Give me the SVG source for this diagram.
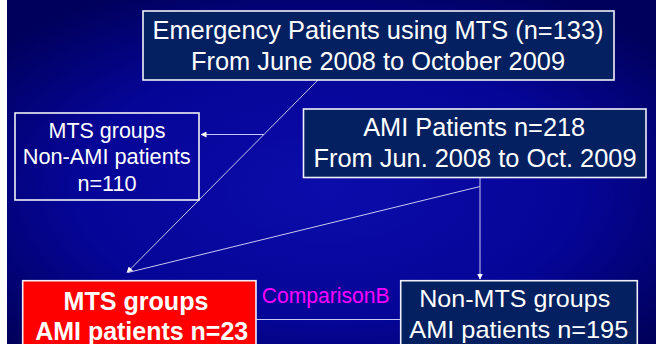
<svg xmlns="http://www.w3.org/2000/svg" width="656" height="344" viewBox="0 0 656 344">
<defs>
<radialGradient id="bg" cx="50%" cy="55%" r="65%">
<stop offset="0" stop-color="#0c0cab"/>
<stop offset="0.6" stop-color="#050596"/>
<stop offset="1" stop-color="#00005c"/>
</radialGradient>
<marker id="ah" viewBox="0 0 6 6" refX="5.5" refY="3" markerWidth="6" markerHeight="6" markerUnits="userSpaceOnUse" orient="auto">
<path d="M0,0 L6,3 L0,6 z" fill="#ffffff"/>
</marker>
<style>
.box{stroke:#f0f0f8;stroke-width:1.6}
.navy{fill:#042060}
.t{font-family:"Liberation Sans",Arial,sans-serif;fill:#ffffff;text-anchor:middle}
.conn{stroke:#c8c8f0;stroke-width:1;fill:none}
</style>
</defs>
<rect x="0" y="0" width="656" height="344" fill="url(#bg)"/>
<rect x="0" y="0" width="7" height="344" fill="#ffffff"/>

<g id="connectors">
<polyline class="conn" points="318,80 127,272.5" marker-end="url(#ah)"/>
<polyline class="conn" points="264,134.5 201,134.5" marker-end="url(#ah)"/>
<polyline class="conn" points="480,178 480,279" marker-end="url(#ah)"/>
<polyline class="conn" points="480,186.5 128,272.5"/>
<line class="conn" x1="256" y1="319.5" x2="401" y2="319.5"/>
</g>

<g id="emergency">
<rect class="box navy" x="143" y="11" width="471" height="69"/>
<text class="t" x="378" y="38.5" font-size="25.5" textLength="451" lengthAdjust="spacingAndGlyphs">Emergency Patients using MTS (n=133)</text>
<text class="t" x="378" y="69.5" font-size="25.5" textLength="374" lengthAdjust="spacingAndGlyphs">From June 2008 to October 2009</text>
</g>

<g id="nonami">
<rect class="box" x="15" y="113" width="184" height="87" fill="none"/>
<text class="t" x="107" y="138" font-size="21.5" textLength="117" lengthAdjust="spacingAndGlyphs">MTS groups</text>
<text class="t" x="106.7" y="164" font-size="21.5" textLength="168" lengthAdjust="spacingAndGlyphs">Non-AMI patients</text>
<text class="t" x="107" y="190.5" font-size="21.5" textLength="59" lengthAdjust="spacingAndGlyphs">n=110</text>
</g>

<g id="ami">
<rect class="box navy" x="303.5" y="109" width="342.5" height="68.5"/>
<text class="t" x="474.2" y="136" font-size="25.5" textLength="222" lengthAdjust="spacingAndGlyphs">AMI Patients n=218</text>
<text class="t" x="475" y="166.5" font-size="25.5" textLength="323" lengthAdjust="spacingAndGlyphs">From Jun. 2008 to Oct. 2009</text>
</g>

<g id="mts-ami">
<rect class="box" x="22.7" y="280.7" width="233.3" height="80" fill="#ff0000" stroke-width="2"/>
<text class="t" x="136" y="310" font-size="26" font-weight="bold" textLength="145" lengthAdjust="spacingAndGlyphs">MTS groups</text>
<text class="t" x="141.7" y="340" font-size="26" font-weight="bold" textLength="213" lengthAdjust="spacingAndGlyphs">AMI patients n=23</text>
</g>

<g id="comparison">
<text x="261.7" y="302.7" font-family="'Liberation Sans',Arial,sans-serif" font-size="22" fill="#ff00ff" textLength="128" lengthAdjust="spacingAndGlyphs">ComparisonB</text>
</g>

<g id="non-mts">
<rect class="box navy" x="400.7" y="280.7" width="236.6" height="80"/>
<text class="t" x="514.7" y="306.7" font-size="24.5" textLength="191" lengthAdjust="spacingAndGlyphs">Non-MTS groups</text>
<text class="t" x="518.8" y="337.5" font-size="24.5" textLength="219" lengthAdjust="spacingAndGlyphs">AMI patients n=195</text>
</g>
</svg>
